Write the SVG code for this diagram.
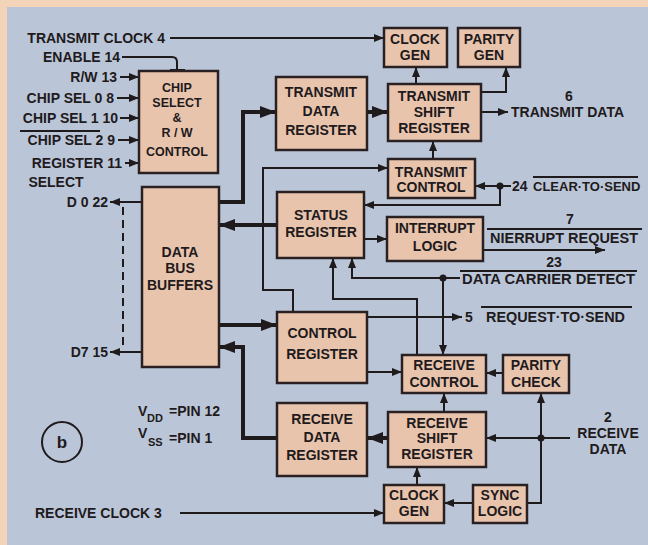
<svg xmlns="http://www.w3.org/2000/svg" width="648" height="545" viewBox="0 0 648 545">
<style>
text{font-family:"Liberation Sans",Arial,sans-serif;font-weight:bold;font-size:14px;fill:#1f1a1c}
.c{text-anchor:middle}
.e{text-anchor:end}
.s{font-size:12.5px}
.box{fill:#e8c4ad;stroke:#2a2022;stroke-width:2.5}
.w{fill:none;stroke:#1f1a1c;stroke-width:2}
.t{fill:none;stroke:#1f1a1c;stroke-width:4}
.ov{stroke:#1f1a1c;stroke-width:1.8}
</style>
<defs>
<marker id="a" markerUnits="userSpaceOnUse" markerWidth="12" markerHeight="10" refX="10" refY="4" orient="auto"><path d="M0,0 L10,4 L0,8 Z" fill="#1f1a1c"/></marker>
<marker id="A" markerUnits="userSpaceOnUse" markerWidth="18" markerHeight="14" refX="16" refY="6" orient="auto"><path d="M0,0 L16,6 L0,12 Z" fill="#1f1a1c"/></marker>
</defs>
<rect width="648" height="545" fill="#f3d4b8"/>
<rect x="7" y="7" width="641" height="538" fill="#bac6d8"/>

<g id="connectors">
<path class="w" d="M170,38 H384" marker-end="url(#a)"/>
<path class="w" d="M122,57 H172 Q177,57 177,62 V70"/>
<path class="w" d="M170,70 H185"/>
<path class="w" d="M120,77 H139" marker-end="url(#a)"/>
<path class="w" d="M117,98 H139" marker-end="url(#a)"/>
<path class="w" d="M120,118 H139" marker-end="url(#a)"/>
<path class="w" d="M118,140 H139" marker-end="url(#a)"/>
<path class="w" d="M125,163 H139" marker-end="url(#a)"/>
<path class="w" d="M142,202 H110" marker-end="url(#a)"/>
<path class="w" d="M142,352 H110" marker-end="url(#a)"/>
<path class="w" d="M123,207 V348" stroke-dasharray="8 5"/>
<path class="t" d="M219,202 H243 V112 H276" marker-end="url(#A)"/>
<path class="t" d="M367,112 H388" marker-end="url(#A)"/>
<path class="w" d="M416,84 V67" marker-end="url(#a)"/>
<path class="w" d="M481,92 H506 V67" marker-end="url(#a)"/>
<path class="w" d="M481,112 H508" marker-end="url(#a)"/>
<path class="w" d="M433,159 V141" marker-end="url(#a)"/>
<path class="w" d="M293,312 V290 H263 V168 H388" marker-end="url(#a)"/>
<path class="w" d="M511,186 H475" marker-end="url(#a)"/>
<path class="w" d="M500,186 V205 H364" marker-end="url(#a)"/>
<circle cx="500" cy="186" r="3.5" fill="#1f1a1c"/>
<path class="t" d="M277,225 H219" marker-end="url(#A)"/>
<path class="w" d="M364,239 H387" marker-end="url(#a)"/>
<path class="w" d="M483,250 H605" marker-end="url(#a)"/>
<path class="w" d="M460,278 H352 V258" marker-end="url(#a)"/>
<path class="w" d="M443,278 V355" marker-end="url(#a)"/>
<circle cx="443" cy="278" r="3.5" fill="#1f1a1c"/>
<path class="w" d="M417,355 V299 H333 V258" marker-end="url(#a)"/>
<path class="w" d="M367,317 H462" marker-end="url(#a)"/>
<path class="t" d="M219,325 H277" marker-end="url(#A)"/>
<path class="w" d="M367,372 H402" marker-end="url(#a)"/>
<path class="w" d="M503,373 H486" marker-end="url(#a)"/>
<path class="w" d="M444,412 V393" marker-end="url(#a)"/>
<path class="t" d="M277,438 H243 V347 H219" marker-end="url(#A)"/>
<path class="t" d="M388,438 H367" marker-end="url(#A)"/>
<path class="w" d="M570,438 H486" marker-end="url(#a)"/>
<circle cx="541" cy="438" r="3.5" fill="#1f1a1c"/>
<path class="w" d="M541,438 V393" marker-end="url(#a)"/>
<path class="w" d="M541,438 V503 H527"/>
<path class="w" d="M473,503 H444" marker-end="url(#a)"/>
<path class="w" d="M417,485 V467" marker-end="url(#a)"/>
<path class="w" d="M180,513 H384" marker-end="url(#a)"/>
</g>

<g id="chip-select">
<rect class="box" x="139" y="71" width="79" height="102"/>
<text class="c s" x="177" y="92">CHIP</text>
<text class="c s" x="177" y="107">SELECT</text>
<text class="c s" x="177" y="122">&amp;</text>
<text class="c s" x="177" y="137">R / W</text>
<text class="c s" x="177" y="156">CONTROL</text>
</g>
<g id="data-bus-buffers">
<rect class="box" x="142" y="187" width="77" height="180"/>
<text class="c" x="180" y="257">DATA</text>
<text class="c" x="180" y="273">BUS</text>
<text class="c" x="180" y="290">BUFFERS</text>
</g>
<g id="transmit-data-register">
<rect class="box" x="276" y="77" width="91" height="73"/>
<text class="c" x="321" y="97">TRANSMIT</text>
<text class="c" x="321" y="116">DATA</text>
<text class="c" x="321" y="135">REGISTER</text>
</g>
<g id="transmit-shift-register">
<rect class="box" x="388" y="84" width="93" height="57"/>
<text class="c" x="434" y="101">TRANSMIT</text>
<text class="c" x="434" y="117">SHIFT</text>
<text class="c" x="434" y="133">REGISTER</text>
</g>
<g id="clock-gen-tx">
<rect class="box" x="384" y="28" width="63" height="39"/>
<text class="c" x="415" y="44">CLOCK</text>
<text class="c" x="415" y="60">GEN</text>
</g>
<g id="parity-gen">
<rect class="box" x="458" y="28" width="62" height="39"/>
<text class="c" x="489" y="44">PARITY</text>
<text class="c" x="489" y="60">GEN</text>
</g>
<g id="transmit-control">
<rect class="box" x="388" y="159" width="87" height="39"/>
<text class="c" x="431" y="177">TRANSMIT</text>
<text class="c" x="431" y="192">CONTROL</text>
</g>
<g id="status-register">
<rect class="box" x="277" y="192" width="87" height="66"/>
<text class="c" x="321" y="220">STATUS</text>
<text class="c" x="321" y="237">REGISTER</text>
</g>
<g id="interrupt-logic">
<rect class="box" x="387" y="217" width="96" height="44"/>
<text class="c" x="435" y="233">INTERRUPT</text>
<text class="c" x="435" y="251">LOGIC</text>
</g>
<g id="control-register">
<rect class="box" x="277" y="312" width="90" height="71"/>
<text class="c" x="322" y="338">CONTROL</text>
<text class="c" x="322" y="359">REGISTER</text>
</g>
<g id="receive-data-register">
<rect class="box" x="277" y="403" width="90" height="73"/>
<text class="c" x="322" y="424">RECEIVE</text>
<text class="c" x="322" y="442">DATA</text>
<text class="c" x="322" y="460">REGISTER</text>
</g>
<g id="receive-control">
<rect class="box" x="402" y="355" width="84" height="38"/>
<text class="c" x="444" y="370">RECEIVE</text>
<text class="c" x="444" y="387">CONTROL</text>
</g>
<g id="parity-check">
<rect class="box" x="503" y="355" width="66" height="38"/>
<text class="c" x="536" y="370">PARITY</text>
<text class="c" x="536" y="387">CHECK</text>
</g>
<g id="receive-shift-register">
<rect class="box" x="388" y="412" width="98" height="55"/>
<text class="c" x="437" y="428">RECEIVE</text>
<text class="c" x="437" y="443">SHIFT</text>
<text class="c" x="437" y="459">REGISTER</text>
</g>
<g id="clock-gen-rx">
<rect class="box" x="384" y="485" width="60" height="38"/>
<text class="c" x="414" y="500">CLOCK</text>
<text class="c" x="414" y="516">GEN</text>
</g>
<g id="sync-logic">
<rect class="box" x="473" y="485" width="54" height="38"/>
<text class="c" x="500" y="500">SYNC</text>
<text class="c" x="500" y="516">LOGIC</text>
</g>

<g id="labels">
<text class="e" x="165" y="43">TRANSMIT CLOCK 4</text>
<text class="e" x="120" y="62">ENABLE 14</text>
<text class="e" x="117" y="82">R/W 13</text>
<text class="e" x="114" y="103">CHIP SEL 0 8</text>
<text class="e" x="118" y="123">CHIP SEL 1 10</text>
<line class="ov" x1="20" y1="131" x2="100" y2="131"/>
<text class="e" x="115" y="145">CHIP SEL 2 9</text>
<text class="e" x="122" y="168">REGISTER 11</text>
<text class="c" x="56" y="187">SELECT</text>
<text class="e" x="108" y="207">D 0 22</text>
<text class="e" x="108" y="357">D7 15</text>
<circle cx="62" cy="442" r="20" fill="none" stroke="#1f1a1c" stroke-width="2"/>
<text class="c" x="62" y="448" style="font-size:17px">b</text>
<text x="138" y="416">V</text>
<text x="147" y="422" style="font-size:11px">DD</text>
<text x="169" y="416">=PIN 12</text>
<text x="138" y="438">V</text>
<text x="148" y="446" style="font-size:11px">SS</text>
<text x="169" y="443">=PIN 1</text>
<text x="35" y="518">RECEIVE CLOCK 3</text>
<text class="c" x="569" y="101">6</text>
<text x="511" y="117">TRANSMIT DATA</text>
<text x="512" y="191">24</text>
<line class="ov" x1="533" y1="177" x2="638" y2="177"/>
<text x="533" y="191" style="font-size:13px">CLEAR·TO·SEND</text>
<text class="c" x="570" y="224">7</text>
<line class="ov" x1="487" y1="229" x2="642" y2="229"/>
<text x="490" y="243" textLength="148" lengthAdjust="spacingAndGlyphs">NIERRUPT REQUEST</text>
<text class="c" x="554" y="267">23</text>
<line class="ov" x1="460" y1="271" x2="637" y2="271"/>
<text x="462" y="284" textLength="173" lengthAdjust="spacingAndGlyphs">DATA CARRIER DETECT</text>
<text x="465" y="322">5</text>
<line class="ov" x1="481" y1="307" x2="632" y2="307"/>
<text x="486" y="322" textLength="139" lengthAdjust="spacingAndGlyphs">REQUEST·TO·SEND</text>
<text class="c" x="608" y="422">2</text>
<text class="c" x="608" y="438">RECEIVE</text>
<text class="c" x="608" y="454">DATA</text>
</g>
</svg>
